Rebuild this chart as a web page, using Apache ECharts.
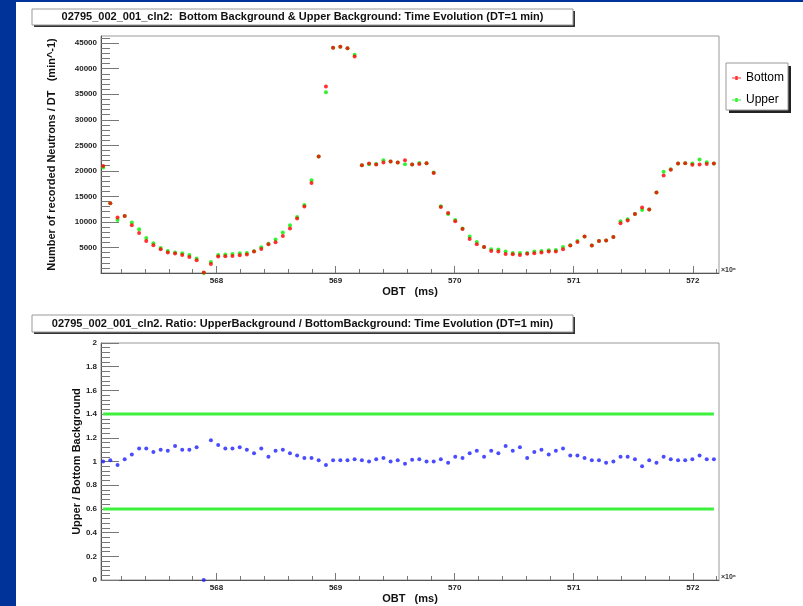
<!DOCTYPE html>
<html>
<head>
<meta charset="utf-8">
<title>02795_002_001_cln2 background time evolution</title>
<script src="https://cdn.jsdelivr.net/npm/echarts@6/dist/echarts.min.js"></script>
<style>
  html, body { margin: 0; padding: 0; background: #003399; }
  #sheet { position: absolute; left: 16px; top: 2px; width: 787px; height: 604px; background: #fff; }
  #chart { position: absolute; left: 0; top: 0; width: 803px; height: 606px; }
</style>
</head>
<body>
<div id="sheet"></div>
<div id="chart"></div>
<script>
// OBT of each 1-minute bin (x10^6 ms)
const obt = [
  567.048, 567.108, 567.169, 567.229, 567.289, 567.350, 567.410, 567.470, 567.531, 567.591,
  567.652, 567.712, 567.772, 567.833, 567.893, 567.953, 568.014, 568.074, 568.134, 568.195,
  568.255, 568.315, 568.376, 568.436, 568.496, 568.557, 568.617, 568.677, 568.738, 568.798,
  568.858, 568.919, 568.979, 569.040, 569.100, 569.160, 569.221, 569.281, 569.341, 569.402,
  569.462, 569.522, 569.583, 569.643, 569.703, 569.764, 569.824, 569.884, 569.945, 570.005,
  570.066, 570.126, 570.186, 570.247, 570.307, 570.367, 570.428, 570.488, 570.548, 570.609,
  570.669, 570.729, 570.790, 570.850, 570.910, 570.971, 571.031, 571.091, 571.152, 571.212,
  571.272, 571.333, 571.393, 571.453, 571.514, 571.574, 571.634, 571.695, 571.755, 571.815,
  571.876, 571.936, 571.996, 572.057, 572.117, 572.177
];

// Bottom background (min^-1)
const bottomRate = [
  20970, 13660, 10850, 11180, 9350, 7840, 6280, 5430, 4640, 3990,
  3800, 3530, 3140, 2490, 80, 1770, 3210, 3270, 3340, 3470,
  3600, 4190, 4710, 5620, 6020, 7260, 8690, 10650, 13000, 17640,
  22800, 36510, 44090, 44280, 44020, 42390, 21100, 21430, 21230, 21620,
  21820, 21620, 22080, 21230, 21360, 21490, 19600, 12940, 11760, 10130,
  8630, 6670, 5620, 5100, 4320, 4190, 3730, 3660, 3530, 3790,
  3860, 3990, 4190, 4190, 4640, 5360, 6080, 7130, 5360, 6280,
  6340, 7060, 9740, 10260, 11570, 12810, 12420, 15750, 19080, 20190,
  21430, 21490, 21170, 21230, 21360, 21430
];

// Upper background (min^-1)
const upperRate = [
  20640, 13660, 10390, 11180, 9870, 8560, 6860, 5820, 4900, 4320,
  3990, 3860, 3530, 2820, 0, 2160, 3530, 3600, 3730, 3860,
  3930, 4250, 5030, 5750, 6540, 7910, 9350, 10980, 13330, 18160,
  22800, 35400, 44090, 44280, 44020, 42710, 21100, 21300, 21360, 22080,
  21820, 21620, 21300, 21230, 21560, 21490, 19670, 13070, 11570, 10390,
  8690, 7130, 6080, 5100, 4640, 4580, 4190, 3930, 3930, 3930,
  4190, 4320, 4450, 4510, 5100, 5420, 6280, 7130, 5360, 6280,
  6340, 7060, 10130, 10520, 11570, 12350, 12420, 15750, 19800, 20320,
  21430, 21490, 21430, 22210, 21690, 21430
];

// Upper / Bottom ratio
const ratio = [
  1.00, 1.01, 0.97, 1.02, 1.06, 1.11, 1.11, 1.08, 1.10, 1.09,
  1.13, 1.10, 1.10, 1.12, 0, 1.18, 1.14, 1.11, 1.11, 1.12,
  1.10, 1.07, 1.11, 1.04, 1.09, 1.10, 1.07, 1.05, 1.03, 1.03,
  1.01, 0.97, 1.01, 1.01, 1.01, 1.02, 1.01, 1.00, 1.02, 1.03,
  1.00, 1.01, 0.98, 1.015, 1.02, 1.00, 1.00, 1.02, 0.99, 1.04,
  1.03, 1.07, 1.09, 1.04, 1.09, 1.07, 1.13, 1.09, 1.12, 1.03,
  1.08, 1.10, 1.06, 1.09, 1.11, 1.05, 1.05, 1.03, 1.01, 1.01,
  0.99, 1.00, 1.04, 1.04, 1.02, 0.96, 1.01, 0.99, 1.04, 1.02,
  1.01, 1.01, 1.02, 1.05, 1.02, 1.02
];

// Acceptance band on the ratio
const ratioLimits = [0.6, 1.4];

// Tick values
const xMajorTicks = [568, 569, 570, 571, 572];
const xMinorTicks = [
  567.2, 567.4, 567.6, 567.8, 568.2, 568.4, 568.6, 568.8, 569.2, 569.4, 569.6, 569.8,
  570.2, 570.4, 570.6, 570.8, 571.2, 571.4, 571.6, 571.8, 572.2
];
const rateMajorTicks = [5000, 10000, 15000, 20000, 25000, 30000, 35000, 40000, 45000];
const ratioMajorTicks = [0, 0.2, 0.4, 0.6, 0.8, 1, 1.2, 1.4, 1.6, 1.8, 2];

// minor ticks between the major ones
function minorTicks(step, count, skipEvery) {
  const out = [];
  for (let i = 1; i <= count; i++) {
    if (i % skipEvery !== 0) out.push(+(i * step).toFixed(4));
  }
  return out;
}
const rateMinorTicks = minorTicks(1000, 46, 5);
const ratioMinorTicks = minorTicks(0.04, 50, 5);

const FONT = '"Liberation Sans", Arial, Helvetica, sans-serif';
const X_MIN = 567.03, X_MAX = 572.22;

function zip(xs, ys) {
  return xs.map((x, i) => [x, ys[i]]);
}

// Main axis with labels and long ticks
function buildMainAxis(gridIndex, position, min, max, ticks, tickLen, extra) {
  return {
    type: 'value',
    gridIndex: gridIndex,
    position: position,
    min: min,
    max: max,
    axisLine: { show: true, onZero: false, lineStyle: { color: '#555', width: 1 } },
    axisTick: { show: true, inside: true, length: tickLen, customValues: ticks, lineStyle: { color: '#777' } },
    axisLabel: {
      customValues: ticks, fontSize: 8, fontWeight: 'bold', color: '#222', fontFamily: FONT, margin: 4,
      formatter: v => String(v)
    },
    splitLine: { show: false },
    nameLocation: 'middle',
    nameMoveOverlap: false,
    nameTextStyle: { fontSize: 11, fontWeight: 'bold', color: '#111', fontFamily: FONT },
    ...extra
  };
}

// Overlay axis that only carries the short ticks
function buildMinorAxis(gridIndex, position, min, max, ticks, tickLen) {
  return {
    type: 'value',
    gridIndex: gridIndex,
    position: position,
    min: min,
    max: max,
    axisLine: { show: false, onZero: false },
    axisTick: { show: true, inside: true, length: tickLen, customValues: ticks, lineStyle: { color: '#777' } },
    axisLabel: { show: false },
    splitLine: { show: false }
  };
}

function titleBox(x, y, w, h, text) {
  return [
    { type: 'rect', shape: { x: x + 2, y: y + 2, width: w, height: h }, style: { fill: '#333' } },
    { type: 'rect', shape: { x: x, y: y, width: w, height: h }, style: { fill: '#fff', stroke: '#999', lineWidth: 1 } },
    { type: 'text', x: x + w / 2, y: y + h / 2,
      style: { text: text, fill: '#111', font: 'bold 11px ' + FONT, textAlign: 'center', textVerticalAlign: 'middle' } }
  ];
}

function exponentLabel(x, y) {
  return { type: 'text', x: x, y: y,
    style: { text: '\u00d710\u2076', fill: '#333', font: 'bold 7px ' + FONT, textAlign: 'left', textVerticalAlign: 'middle' } };
}

const chart = echarts.init(document.getElementById('chart'), null, { renderer: 'canvas' });

const option = {
  animation: false,
  backgroundColor: 'transparent',
  grid: [
    { left: 101, top: 36, width: 618, height: 237, show: true, borderColor: '#999', borderWidth: 1 },
    { left: 101, top: 343, width: 618, height: 237, show: true, borderColor: '#999', borderWidth: 1 }
  ],
  xAxis: [
    buildMainAxis(0, 'bottom', X_MIN, X_MAX, xMajorTicks, 7, { name: 'OBT   (ms)', nameGap: 13 }),
    buildMinorAxis(0, 'bottom', X_MIN, X_MAX, xMinorTicks, 4),
    buildMainAxis(1, 'bottom', X_MIN, X_MAX, xMajorTicks, 7, { name: 'OBT   (ms)', nameGap: 13 }),
    buildMinorAxis(1, 'bottom', X_MIN, X_MAX, xMinorTicks, 4)
  ],
  yAxis: [
    buildMainAxis(0, 'left', 0, 46400, rateMajorTicks, 18, { name: 'Number of recorded Neutrons / DT   (min^-1)', nameGap: 44 }),
    buildMinorAxis(0, 'left', 0, 46400, rateMinorTicks, 9),
    buildMainAxis(1, 'left', 0, 2, ratioMajorTicks, 18, { name: 'Upper / Bottom Background', nameGap: 19 }),
    buildMinorAxis(1, 'left', 0, 2, ratioMinorTicks, 9)
  ],
  legend: {
    data: ['Bottom', 'Upper'],
    orient: 'vertical',
    left: 727,
    top: 67,
    itemWidth: 9,
    itemHeight: 5,
    itemGap: 10,
    icon: 'path://M0,2H4V3H0Z M4,0H7V5H4Z M7,2H11V3H7Z',
    textStyle: { fontSize: 12, color: '#000', fontFamily: FONT },
    z: 10
  },
  graphic: [
    ...titleBox(32, 9, 541, 16, '02795_002_001_cln2:  Bottom Background & Upper Background: Time Evolution (DT=1 min)'),
    ...titleBox(32, 315, 541, 17, '02795_002_001_cln2. Ratio: UpperBackground / BottomBackground: Time Evolution (DT=1 min)'),
    { type: 'rect', shape: { x: 729, y: 66, width: 62, height: 47 }, style: { fill: '#222' } },
    { type: 'rect', shape: { x: 726, y: 63, width: 62, height: 47 }, style: { fill: '#fff', stroke: '#999', lineWidth: 1 } },
    exponentLabel(721, 270.5),
    exponentLabel(721, 577)
  ],
  series: [
    {
      name: 'Upper', type: 'scatter', xAxisIndex: 0, yAxisIndex: 0,
      symbol: 'circle', symbolSize: 4, itemStyle: { color: '#00f000' },
      data: zip(obt, upperRate), z: 2
    },
    {
      name: 'Bottom', type: 'scatter', xAxisIndex: 0, yAxisIndex: 0,
      symbol: 'circle', symbolSize: 4, itemStyle: { color: '#ff0000' },
      data: zip(obt, bottomRate), z: 3
    },
    ...ratioLimits.map(v => ({
      name: 'limit ' + v, type: 'line', xAxisIndex: 2, yAxisIndex: 2,
      symbol: 'none', silent: true,
      lineStyle: { color: '#3cf03c', width: 3 },
      data: [[obt[0], v], [obt[obt.length - 1], v]]
    })),
    {
      name: 'Upper / Bottom', type: 'scatter', xAxisIndex: 2, yAxisIndex: 2,
      symbol: 'circle', symbolSize: 4, itemStyle: { color: '#1f1fff' },
      data: zip(obt, ratio), z: 3
    }
  ]
};

chart.setOption(option);
</script>
</body>
</html>
